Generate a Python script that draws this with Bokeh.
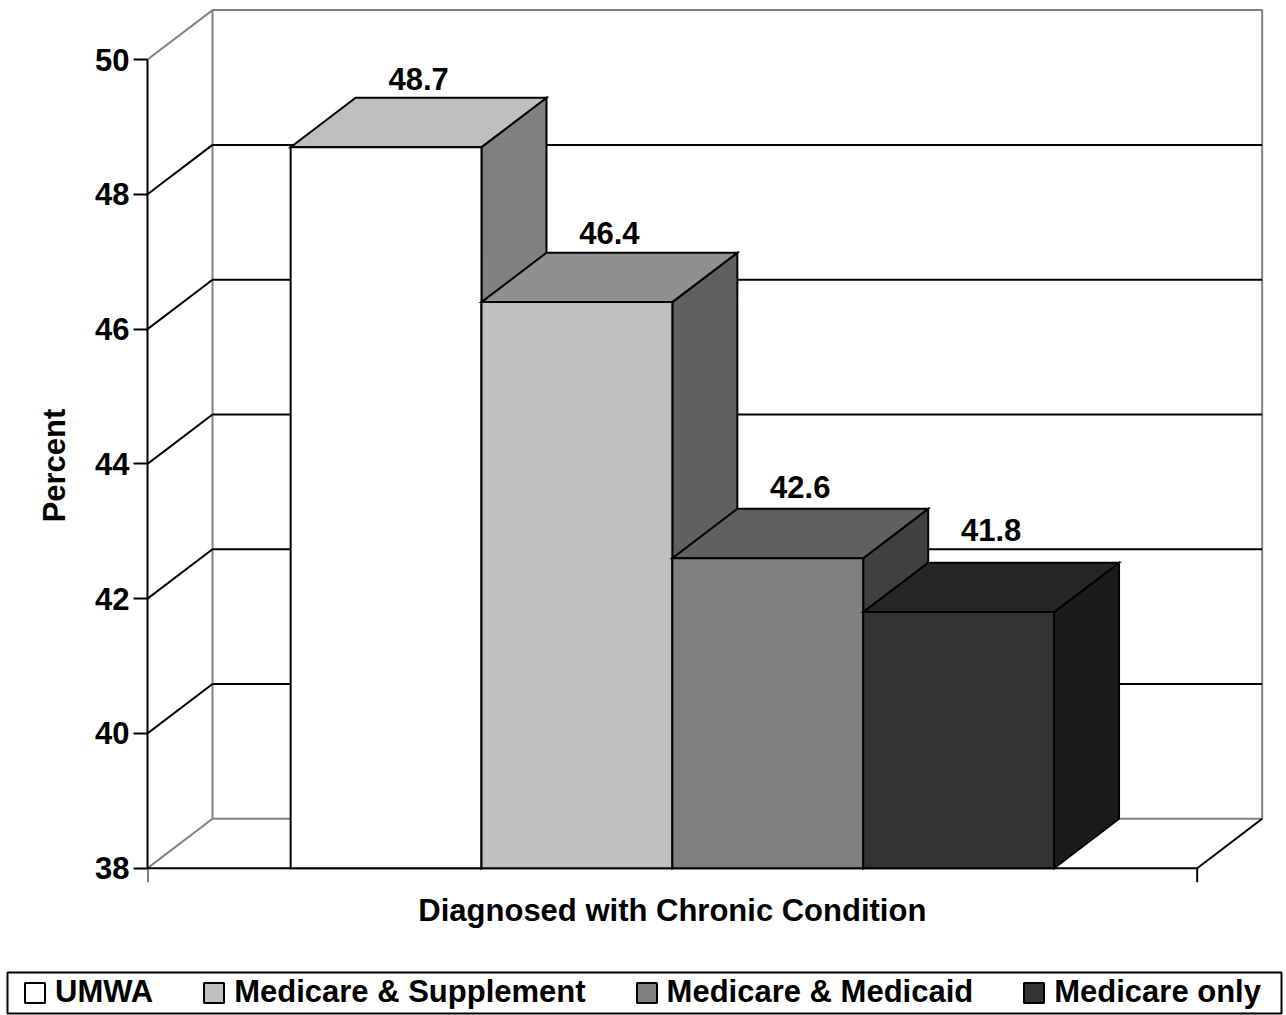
from bokeh.plotting import figure
from bokeh.layouts import column
from bokeh.models import (Range1d, FixedTicker, ColumnDataSource, Legend,
                          LegendItem, BoxAnnotation)
from bokeh.core.properties import value
from bokeh.embed import file_html
from bokeh.resources import INLINE

# ---------------- data ----------------
categories = ["UMWA", "Medicare & Supplement", "Medicare & Medicaid", "Medicare only"]
values = [48.7, 46.4, 42.6, 41.8]
front_colors = ["#FFFFFF", "#C0C0C0", "#808080", "#333333"]
y_ticks = [38, 40, 42, 44, 46, 48, 50]
x_title = "Diagnosed with Chronic Condition"
y_title = "Percent"

# ---------------- layout / style ----------------
W = 1286
H1 = 930                 # chart figure height
H2 = 1015 - H1           # legend strip height
LEFT = 147
PX_X = 190.85            # pixels per category unit
PX_Y = 67.39             # pixels per percent
BASE_PX = 867.7          # pixel row of the axis minimum
Y_MIN, Y_MAX = y_ticks[0], y_ticks[-1]
x_end = (W - LEFT) / PX_X
y_top = Y_MIN + BASE_PX / PX_Y
y_bot = Y_MIN - (H1 - BASE_PX) / PX_Y
DX = 65 / PX_X           # depth offset (x)
DY = 49.4 / PX_Y         # depth offset (y)
FLOOR_W = 5.5
GAP = 0.75
BAR_W = 1.0
label_nudge = [8, 9, 11, 22]
BASELINE_FIX = 11
FONT = "Liberation Sans"
FS = "31px"
GRAY = "#808080"


def shade(hex_color, f):
    h = hex_color.lstrip("#")
    r, g, b = (int(h[i:i + 2], 16) for i in (0, 2, 4))
    return "#%02X%02X%02X" % (round(r * f), round(g * f), round(b * f))


p = figure(width=W, height=H1, x_range=Range1d(0, x_end), y_range=Range1d(y_bot, y_top),
           output_backend="svg", toolbar_location=None, x_axis_location=None,
           min_border_left=LEFT, min_border_right=0, min_border_top=0, min_border_bottom=0)
p.frame_align = False
p.outline_line_color = None
p.grid.visible = False
p.background_fill_color = "white"
p.border_fill_color = "white"

ax = p.yaxis[0]
ax.ticker = FixedTicker(ticks=y_ticks)
ax.bounds = (Y_MIN, Y_MAX)
ax.major_tick_out = 14
ax.major_tick_in = 0
ax.minor_tick_out = 0
ax.minor_tick_in = 0
ax.axis_line_width = 2
ax.major_tick_line_width = 2
ax.axis_line_color = "black"
ax.major_tick_line_color = "black"
ax.major_label_text_font = FONT
ax.major_label_text_font_style = "bold"
ax.major_label_text_font_size = FS
ax.major_label_text_color = "black"
ax.major_label_standoff = 4
ax.axis_label = y_title
ax.axis_label_text_font = FONT
ax.axis_label_text_font_style = "bold"
ax.axis_label_text_font_size = FS
ax.axis_label_text_color = "black"
ax.axis_label_standoff = 20

# ---------- walls ----------
p.quad(left=DX, right=FLOOR_W + DX, bottom=Y_MIN + DY, top=Y_MAX + DY,
       fill_color="white", line_color=GRAY, line_width=2)
inner = y_ticks[1:-1]
p.segment(x0=[DX] * len(inner), x1=[FLOOR_W + DX] * len(inner),
          y0=[t + DY for t in inner], y1=[t + DY for t in inner],
          line_color="black", line_width=2)
p.segment(x0=[0] * len(inner), x1=[DX] * len(inner),
          y0=inner, y1=[t + DY for t in inner], line_color="black", line_width=2)
p.segment(x0=[0, 0], x1=[DX, DX], y0=[Y_MIN, Y_MAX], y1=[Y_MIN + DY, Y_MAX + DY],
          line_color=GRAY, line_width=2)
# floor: right edge and front edge, category-boundary ticks
p.segment(x0=[FLOOR_W, 0], x1=[FLOOR_W + DX, FLOOR_W], y0=[Y_MIN, Y_MIN],
          y1=[Y_MIN + DY, Y_MIN], line_color="black", line_width=2)
p.segment(x0=[0, FLOOR_W], x1=[0, FLOOR_W], y0=[Y_MIN, Y_MIN],
          y1=[Y_MIN - 14 / PX_Y] * 2, line_color="black", line_width=2)

# ---------- bars ----------
bar_geom = []
for i, (v, c) in enumerate(zip(values, front_colors)):
    l = GAP + i * BAR_W
    r = l + BAR_W
    bar_geom.append((l, r, v, c))
    xs = [[r, r, r + DX, r + DX], [l, r, r + DX, l + DX]]
    ys = [[Y_MIN, v, v + DY, Y_MIN + DY], [v, v, v + DY, v + DY]]
    p.patches(xs=xs, ys=ys, fill_color=[shade(c, 0.5), shade(c, 0.75)],
              line_color="black", line_width=2, line_join="miter")
    p.quad(left=[l], right=[r], bottom=[Y_MIN], top=[v], fill_color=c,
           line_color="black", line_width=2, line_join="miter")

# ---------- value labels ----------
lab = ColumnDataSource(dict(
    x=[GAP + i * BAR_W + BAR_W / 2 + DX / 2 for i in range(len(values))],
    y=[v + DY for v in values],
    t=["%.1f" % v for v in values],
    off=[-n - BASELINE_FIX for n in label_nudge],
))
p.text(x="x", y="y", text="t", y_offset="off", source=lab, text_align="center",
       text_baseline="alphabetic", text_font=value(FONT), text_font_style="bold",
       text_font_size=FS, text_color="black")

# ---------- x title ----------
p.text(x=[FLOOR_W / 2], y=[Y_MIN], text=[x_title], y_offset=53 - BASELINE_FIX,
       text_align="center", text_baseline="alphabetic", text_font=value(FONT),
       text_font_style="bold", text_font_size=FS, text_color="black")

# ---------- legend strip ----------
q = figure(width=W, height=H2, x_range=Range1d(0, W), y_range=Range1d(0, H2),
           output_backend="svg", toolbar_location=None, x_axis_location=None,
           y_axis_location=None, min_border_left=0, min_border_right=0,
           min_border_top=0, min_border_bottom=0)
q.frame_align = False
q.outline_line_color = None
q.grid.visible = False
q.background_fill_color = "white"
q.border_fill_color = "white"

# hidden copies of the bars, used only as legend swatches
swatches = [q.quad(left=[l], right=[r], bottom=[Y_MIN], top=[v], fill_color=c,
                   line_color="black", line_width=2, visible=False)
            for (l, r, v, c) in bar_geom]
q.add_layout(BoxAnnotation(left=7, right=1281, bottom=2, top=43,
                           left_units="screen", right_units="screen",
                           bottom_units="screen", top_units="screen",
                           fill_alpha=0, line_color="black", line_alpha=1.0,
                           line_width=2))
legend = Legend(items=[LegendItem(label=c, renderers=[r]) for c, r in zip(categories, swatches)],
                orientation="horizontal", location=(22, 5),
                label_text_font=FONT, label_text_font_style="bold", label_text_font_size=FS,
                label_text_color="black", glyph_width=25, glyph_height=25, label_standoff=8,
                spacing=48, padding=5, border_line_color=None, background_fill_alpha=0,
                margin=0)
q.add_layout(legend)

layout = column(p, q, spacing=0)
open("out.html", "w").write(file_html(layout, INLINE))
